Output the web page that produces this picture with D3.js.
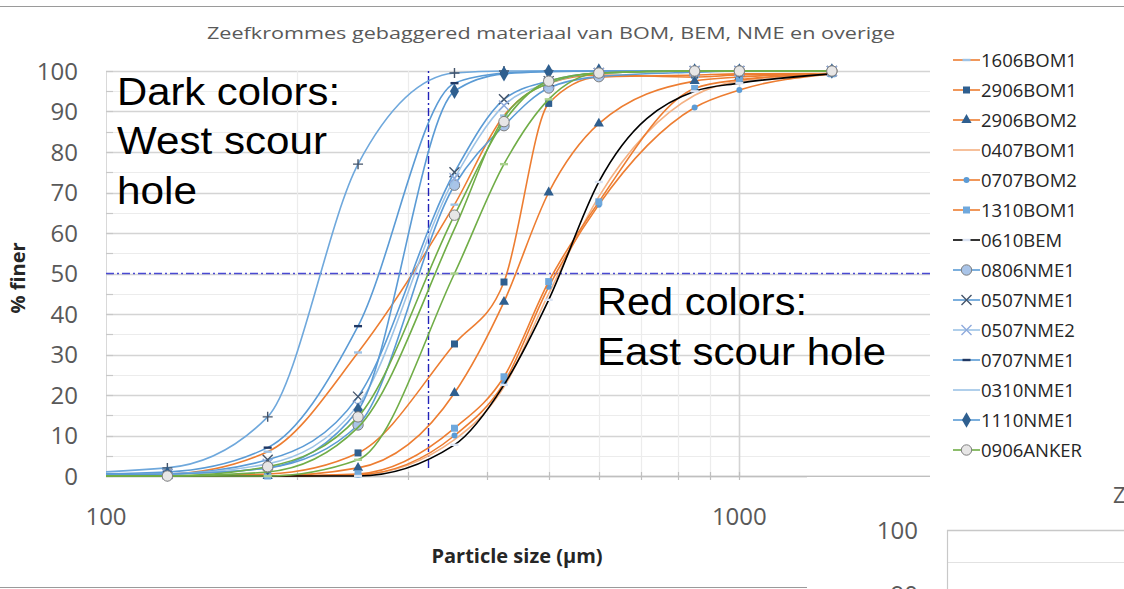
<!DOCTYPE html>
<html>
<head>
<meta charset="utf-8">
<script src="https://cdn.jsdelivr.net/npm/d3@7"></script>
<style>
  body { margin: 0; background: #fff; }
  svg { display: block; }
</style>
</head>
<body>
<svg id="chart" width="1124" height="589"></svg>
<script>
// sieve sizes in µm (63 only lets the lines run in from the left edge)
var sizes = [63, 125, 180, 250, 355, 425, 500, 600, 850, 1000, 1400];

// % finer per sample, one value per sieve size
var fin1606BOM1 = [0, 0.5, 6, 30.5, 67, 89, 97, 99, 98.5, 99, 99.3];
var fin2906BOM1 = [0, 0, 0.5, 5.7, 32.6, 47.9, 92, 98.5, 99, 99.3, 99.4];
var fin2906BOM2 = [0, 0, 0, 2, 20.5, 43, 70, 87, 97.5, 98.5, 99.4];
var fin0407BOM1 = [0, 0, 0, 0.3, 9, 22, 45, 69, 94, 97.5, 99.3];
var fin0707BOM2 = [0, 0, 0, 0.3, 10, 23, 46.7, 67, 91, 95.3, 99.3];
var fin1310BOM1 = [0, 0, 0, 0.5, 11.8, 24.5, 48, 67.7, 95.7, 97.8, 99.3];
var fin0610BEM  = [0, 0, 0, 0, 7.7, 22.5, 43.5, 72.6, 95, 97, 99.3];
var fin0806NME1 = [0, 0.5, 2, 12.6, 71.8, 86.5, 95.8, 98.6, 99.7, 100, 100];
var fin0507NME1 = [0, 0.5, 4, 19.6, 75, 93, 97.5, 99.5, 100, 100, 100];
var fin0507NME2 = [0, 0.5, 3, 17.5, 73.5, 91.5, 97, 99.5, 100, 100, 100];
var fin0707NME1 = [0, 1, 7, 37, 97, 99.5, 100, 100, 100, 100, 100];
var fin0310NME1 = [0, 2, 14.6, 77, 99.5, 100, 100, 100, 100, 100, 100];
var fin1110NME1 = [0, 0.5, 2, 16.3, 95, 99.3, 99.8, 100, 100, 100, 100];
var finAnkerB   = [0, 0, 1, 12, 61, 88.5, 97, 99.5, 100, 100, 100];
var finAnkerC   = [0, 0, 0, 4, 50, 77, 93, 99.5, 100, 100, 100];
var fin0906ANKER = [0, 0, 2.3, 14.6, 64.4, 87.5, 97.5, 99.5, 100, 100, 100];

// legend entries, in legend order
var legendNames = ["1606BOM1", "2906BOM1", "2906BOM2", "0407BOM1", "0707BOM2", "1310BOM1",
  "0610BEM", "0806NME1", "0507NME1", "0507NME2", "0707NME1", "0310NME1", "1110NME1", "0906ANKER"];

// draw order (last on top); the two extra ANKER lines are not in the legend
var drawNames = ["1606BOM1", "2906BOM1", "2906BOM2", "0407BOM1", "0707BOM2", "1310BOM1",
  "0610BEM", "0806NME1", "0507NME1", "0507NME2", "0707NME1", "0310NME1", "1110NME1",
  "ANKER-b", "ANKER-c", "0906ANKER"];
var drawValues = [fin1606BOM1, fin2906BOM1, fin2906BOM2, fin0407BOM1, fin0707BOM2, fin1310BOM1,
  fin0610BEM, fin0806NME1, fin0507NME1, fin0507NME2, fin0707NME1, fin0310NME1, fin1110NME1,
  finAnkerB, finAnkerC, fin0906ANKER];

// dash-dot reference lines
var refHSize = [100, 2000], refHFiner = [50, 50];
var refVSize = [323, 323], refVFiner = [2, 100];

var yTicks = [0, 10, 20, 30, 40, 50, 60, 70, 80, 90, 100];
var xTickLabels = [100, 1000];

// styles
var orange = "#ed7d31", blue = "#5b9bd5", lightBlue = "#9dc3e6", green = "#70ad47";
var lightMk = "#9dc3e6";
var styles = {
  "1606BOM1": { line: orange, marker: "dash", fill: lightMk },
  "2906BOM1": { line: orange, marker: "square", fill: "#2f5f8f" },
  "2906BOM2": { line: orange, marker: "triangle", fill: "#2f5f8f" },
  "0407BOM1": { line: "#f4b183", marker: "none" },
  "0707BOM2": { line: orange, marker: "dot", fill: blue },
  "1310BOM1": { line: orange, marker: "square", fill: "#6fa8dc" },
  "0610BEM":  { line: "#000", marker: "dash", fill: "#dae3f3" },
  "0806NME1": { line: blue, marker: "circle", fill: "#a9c4e8", stroke: "#7f7f7f" },
  "0507NME1": { line: blue, marker: "x", fill: "#44546a" },
  "0507NME2": { line: lightBlue, marker: "x", fill: "#8faadc" },
  "0707NME1": { line: blue, marker: "dash", fill: "#203864" },
  "0310NME1": { line: "#6fa8dc", marker: "plus", fill: "#44546a", legendMarker: "none", legendLine: lightBlue },
  "1110NME1": { line: blue, marker: "diamond", fill: "#2f5f8f" },
  "ANKER-b":  { line: green, marker: "none" },
  "ANKER-c":  { line: green, marker: "dash", fill: "#a9d18e" },
  "0906ANKER": { line: green, marker: "circle", fill: "#e7e6e6", stroke: "#7f7f7f" }
};

var svg = d3.select("#chart");
var sans = "'Open Sans', 'Noto Sans', sans-serif";
var arial = "'Liberation Sans', Arial, sans-serif";

svg.append("rect").attr("width", 1124).attr("height", 589).attr("fill", "#fff");

var x = d3.scaleLog().domain([100, 2000]).range([106, 930]);
var y = d3.scaleLinear().domain([0, 100]).range([476, 71]);

// frame lines of the image
svg.append("line").attr("x1", 0).attr("x2", 1124).attr("y1", 6.5).attr("y2", 6.5)
  .attr("stroke", "#9a9a9a").attr("stroke-width", 1.2);
svg.append("line").attr("x1", 0).attr("x2", 1124).attr("y1", 587.5).attr("y2", 587.5)
  .attr("stroke", "#9a9a9a").attr("stroke-width", 1.2);

// title
svg.append("text")
  .attr("x", 207).attr("y", 39)
  .attr("font-family", sans).attr("font-size", 16.5).attr("fill", "#595959")
  .attr("textLength", 688).attr("lengthAdjust", "spacingAndGlyphs")
  .text("Zeefkrommes gebaggered materiaal van BOM, BEM, NME en overige");

// gridlines
var grid = svg.append("g");
grid.selectAll(".hg")
  .data(d3.range(0, 101, 5))
  .enter().append("line")
  .attr("x1", x(100)).attr("x2", x(2000))
  .attr("y1", function(d) { return Math.round(y(d)) + 0.5; })
  .attr("y2", function(d) { return Math.round(y(d)) + 0.5; })
  .attr("stroke", function(d) { return d % 10 == 0 ? "#d4d4d4" : "#ececec"; })
  .attr("stroke-width", function(d) { return d % 10 == 0 ? 1.6 : 1.2; });

grid.selectAll(".vg")
  .data(x.ticks().filter(function(d) { return d > 100 && d < 2000; }))
  .enter().append("line")
  .attr("x1", function(d) { return Math.round(x(d)) + 0.5; })
  .attr("x2", function(d) { return Math.round(x(d)) + 0.5; })
  .attr("y1", y(100)).attr("y2", y(0))
  .attr("stroke", function(d) { return d == 1000 ? "#d4d4d4" : "#ececec"; })
  .attr("stroke-width", function(d) { return d == 1000 ? 1.6 : 1.2; });

// axes
svg.append("line").attr("x1", x(100) + 0.5).attr("x2", x(100) + 0.5)
  .attr("y1", y(100)).attr("y2", y(0)).attr("stroke", "#d9d9d9");
svg.append("line").attr("x1", x(100)).attr("x2", x(2000))
  .attr("y1", y(0) + 0.5).attr("y2", y(0) + 0.5).attr("stroke", "#bfbfbf").attr("stroke-width", 1.4);

svg.append("g").selectAll("line")
  .data(x.ticks().filter(function(d) { return d > 100 && d < 2000; }))
  .enter().append("line")
  .attr("x1", function(d) { return Math.round(x(d)) + 0.5; })
  .attr("x2", function(d) { return Math.round(x(d)) + 0.5; })
  .attr("y1", y(0) - 4).attr("y2", y(0) + 4)
  .attr("stroke", "#bfbfbf").attr("stroke-width", 1.2);

svg.append("g").selectAll("line")
  .data(d3.range(0, 101, 5))
  .enter().append("line")
  .attr("x1", x(100)).attr("x2", x(100) + 7)
  .attr("y1", function(d) { return Math.round(y(d)) + 0.5; })
  .attr("y2", function(d) { return Math.round(y(d)) + 0.5; })
  .attr("stroke", "#c8c8c8").attr("stroke-width", 1.2);

svg.append("g").selectAll("text")
  .data(yTicks)
  .enter().append("text")
  .attr("x", 78).attr("y", function(d) { return y(d); })
  .attr("dy", "0.36em")
  .attr("text-anchor", "end")
  .attr("font-family", sans).attr("font-size", 24).attr("fill", "#595959")
  .text(function(d) { return d; });

svg.append("g").selectAll("text")
  .data(xTickLabels)
  .enter().append("text")
  .attr("x", function(d) { return x(d); }).attr("y", 525)
  .attr("text-anchor", "middle")
  .attr("font-family", sans).attr("font-size", 24).attr("fill", "#595959")
  .text(function(d) { return d; });

svg.append("text")
  .attr("x", 517).attr("y", 563)
  .attr("text-anchor", "middle")
  .attr("font-family", sans).attr("font-weight", "bold").attr("font-size", 20).attr("fill", "#262626")
  .text("Particle size (µm)");

svg.append("text")
  .attr("transform", "translate(25,278) rotate(-90)")
  .attr("text-anchor", "middle")
  .attr("font-family", sans).attr("font-weight", "bold").attr("font-size", 20).attr("fill", "#262626")
  .text("% finer");

// annotations
var notes = [
  { t: "Dark colors:", x: 117, y: 105, w: 223 },
  { t: "West scour", x: 117, y: 154, w: 210 },
  { t: "hole", x: 117, y: 204, w: 80 },
  { t: "Red colors:", x: 597, y: 315, w: 210 },
  { t: "East scour hole", x: 597, y: 365, w: 289 }
];
svg.append("g").selectAll("text")
  .data(notes)
  .enter().append("text")
  .attr("x", function(d) { return d.x; }).attr("y", function(d) { return d.y; })
  .attr("textLength", function(d) { return d.w; }).attr("lengthAdjust", "spacingAndGlyphs")
  .attr("font-family", arial).attr("font-size", 38).attr("fill", "#000")
  .text(function(d) { return d.t; });

// clip to plot
svg.append("clipPath").attr("id", "plotclip")
  .append("rect").attr("x", x(100)).attr("y", y(100) - 8)
  .attr("width", x(2000) - x(100)).attr("height", y(0) - y(100) + 16);

var plot = svg.append("g").attr("clip-path", "url(#plotclip)");

var line = d3.line()
  .x(function(d) { return x(d[0]); })
  .y(function(d) { return y(d[1]); })
  .curve(d3.curveMonotoneX);

var straight = d3.line()
  .x(function(d) { return x(d[0]); })
  .y(function(d) { return y(d[1]); });

// reference dash-dot lines
plot.append("path")
  .attr("d", straight(d3.zip(refHSize, refHFiner)))
  .attr("fill", "none").attr("stroke", "#4a4ad2").attr("stroke-width", 1.4)
  .attr("stroke-dasharray", "8,3,2,3");
plot.append("path")
  .attr("d", straight(d3.zip(refVSize, refVFiner)))
  .attr("fill", "none").attr("stroke", "#2222b8").attr("stroke-width", 1.4)
  .attr("stroke-dasharray", "8,3,2,3");

function markerPath(kind) {
  var p = d3.path();
  if (kind == "dash") { p.moveTo(-4, 0); p.lineTo(4, 0); }
  if (kind == "plus") { p.moveTo(-5, 0); p.lineTo(5, 0); p.moveTo(0, -5); p.lineTo(0, 5); }
  if (kind == "x") { p.moveTo(-5, -5); p.lineTo(5, 5); p.moveTo(-5, 5); p.lineTo(5, -5); }
  return p.toString();
}

function drawMarker(g, st, kind) {
  if (kind == "none") return;
  if (kind == "dash" || kind == "plus" || kind == "x") {
    g.append("path").attr("d", markerPath(kind))
      .attr("stroke", st.fill).attr("stroke-width", kind == "dash" ? 2.4 : 1.4).attr("fill", "none");
    return;
  }
  var sym = { square: d3.symbolSquare, triangle: d3.symbolTriangle, diamond: d3.symbolDiamond,
              circle: d3.symbolCircle, dot: d3.symbolCircle }[kind];
  var size = { square: 49, triangle: 45, diamond: 70, circle: 85, dot: 28 }[kind];
  g.append("path").attr("d", d3.symbol().type(sym).size(size)())
    .attr("fill", st.fill)
    .attr("stroke", st.stroke || "none").attr("stroke-width", 1);
}

drawNames.forEach(function(name, i) {
  var st = styles[name];
  var pts = d3.zip(sizes, drawValues[i]);
  plot.append("path")
    .attr("d", line(pts))
    .attr("fill", "none").attr("stroke", st.line).attr("stroke-width", 1.6);
  var mk = plot.append("g").selectAll("g")
    .data(pts.slice(1))
    .enter().append("g")
    .attr("transform", function(d) { return "translate(" + x(d[0]) + "," + y(d[1]) + ")"; });
  mk.each(function() { drawMarker(d3.select(this), st, st.marker); });
});

// legend
var legend = svg.append("g");
legendNames.forEach(function(name, i) {
  var st = styles[name];
  var cy = 60 + i * 30;
  var item = legend.append("g").attr("transform", "translate(0," + cy + ")");
  item.append("line").attr("x1", 953).attr("x2", 980).attr("y1", 0).attr("y2", 0)
    .attr("stroke", st.legendLine || st.line).attr("stroke-width", 1.6);
  var mg = item.append("g").attr("transform", "translate(966.5,0)");
  drawMarker(mg, st, st.legendMarker || st.marker);
  item.append("text")
    .attr("x", 981).attr("dy", "0.36em")
    .attr("font-family", sans).attr("font-size", 18.5).attr("fill", "#262626")
    .text(name);
});

// neighbouring chart that overlaps the bottom right corner
var nb = svg.append("g");
nb.append("rect").attr("x", 807).attr("y", 477).attr("width", 317).attr("height", 112).attr("fill", "#fff");
nb.append("text").attr("x", 1113).attr("y", 503)
  .attr("font-family", sans).attr("font-size", 22).attr("fill", "#595959").text("Z");
nb.append("text").attr("x", 918).attr("y", 539).attr("text-anchor", "end")
  .attr("font-family", sans).attr("font-size", 24).attr("fill", "#595959").text("100");
nb.append("text").attr("x", 918).attr("y", 603).attr("text-anchor", "end")
  .attr("font-family", sans).attr("font-size", 24).attr("fill", "#595959").text("90");
nb.append("line").attr("x1", 947).attr("x2", 1124).attr("y1", 530.5).attr("y2", 530.5)
  .attr("stroke", "#c8c8c8").attr("stroke-width", 1.4);
nb.append("line").attr("x1", 947).attr("x2", 1124).attr("y1", 562.5).attr("y2", 562.5)
  .attr("stroke", "#e2e2e2").attr("stroke-width", 1.2);
nb.append("line").attr("x1", 947.5).attr("x2", 947.5).attr("y1", 530).attr("y2", 589)
  .attr("stroke", "#c8c8c8").attr("stroke-width", 1.2);
</script>
</body>
</html>
